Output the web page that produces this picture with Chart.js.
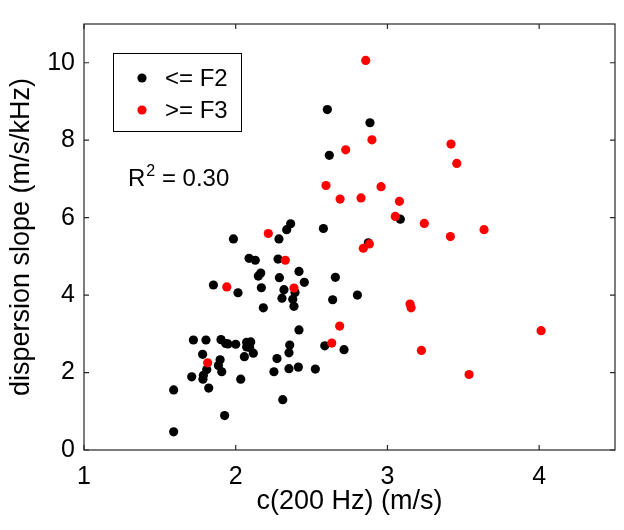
<!DOCTYPE html>
<html>
<head>
<meta charset="utf-8">
<script src="https://cdn.jsdelivr.net/npm/chart.js@4/dist/chart.umd.min.js"></script>
<style>
html,body{margin:0;padding:0;background:#fff;}
#wrap{width:624px;height:530px;}
</style>
</head>
<body>
<div id="wrap"><canvas id="c" width="624" height="530"></canvas></div>
<script>
// ---- data ----
const seriesLabels = ['<= F2', '>= F3'];
const f2Points = [
  [2.604,8.79],[2.617,7.61],[2.362,5.84],[2.336,5.69],[2.578,5.72],[1.985,5.45],[2.285,5.45],[2.885,8.45],[3.085,5.96],
  [2.088,4.95],[2.129,4.90],[2.279,4.93],[2.165,4.57],[2.149,4.49],[2.417,4.61],[2.288,4.45],[2.452,4.33],[2.657,4.46],
  [1.853,4.26],[2.015,4.06],[2.169,4.19],[2.318,4.14],[2.391,4.07],[2.376,3.89],[2.305,3.92],[2.384,3.71],[2.182,3.67],
  [2.639,3.88],[2.417,3.10],[2.587,2.69],[2.714,2.59],
  [1.721,2.84],[1.804,2.84],[1.903,2.85],[1.934,2.75],[1.949,2.74],[2.000,2.73],[2.072,2.78],[2.099,2.79],[2.072,2.66],
  [2.092,2.65],[2.116,2.50],[2.057,2.41],[2.356,2.71],[2.351,2.51],[2.272,2.36],[2.351,2.10],[2.413,2.14],[2.525,2.09],
  [2.252,2.02],[1.782,2.47],[1.897,2.33],[1.886,2.18],[1.908,2.02],[1.809,2.08],[1.787,1.93],[1.784,1.83],[1.710,1.89],
  [2.033,1.83],[1.822,1.60],[1.591,1.55],[2.310,1.30],[1.927,0.89],[1.591,0.47],[2.874,5.35],[2.802,4.00]
];
const f3Points = [
  [2.725,7.75],[2.595,6.83],[2.688,6.48],[2.215,5.59],[2.857,10.06],[2.898,8.01],[3.419,7.90],[3.457,7.40],[2.958,6.80],
  [2.826,6.51],[3.079,6.42],[3.052,6.03],[3.243,5.85],[3.637,5.69],[3.415,5.51],[2.327,4.90],[1.941,4.21],[2.384,4.18],
  [2.685,3.20],[2.633,2.76],[1.815,2.25],[2.841,5.21],[2.881,5.32],[3.149,3.77],[3.156,3.67],[4.013,3.08],[3.224,2.57],
  [3.538,1.95]
];
const xTicks = [1, 2, 3, 4];
const yTicks = [0, 2, 4, 6, 8, 10];
const xTitle = 'c(200 Hz) (m/s)';
const yTitle = 'dispersion slope (m/s/kHz)';
const r2Text = { base: 'R', sup: '2', rest: ' = 0.30' };

const FONT = '"Liberation Sans", Arial, Helvetica, sans-serif';
const toXY = a => a.map(p => ({x: p[0], y: p[1]}));

const framePlugin = {
  id: 'frame',
  beforeDraw(chart) {
    const ctx = chart.ctx;
    ctx.save();
    ctx.fillStyle = '#fff';
    ctx.fillRect(0, 0, chart.width, chart.height);
    ctx.restore();
  },
  afterDraw(chart) {
    const ctx = chart.ctx;
    const {left, right, top, bottom} = chart.chartArea;
    const xs = chart.scales.x, ys = chart.scales.y;
    ctx.save();
    ctx.strokeStyle = '#262626';
    ctx.lineWidth = 1.2;
    ctx.strokeRect(left, top, right - left, bottom - top);
    const tl = 5;
    ctx.beginPath();
    xTicks.forEach(v => {
      const px = xs.getPixelForValue(v);
      ctx.moveTo(px, bottom); ctx.lineTo(px, bottom - tl);
      ctx.moveTo(px, top); ctx.lineTo(px, top + tl);
    });
    yTicks.forEach(v => {
      const py = ys.getPixelForValue(v);
      ctx.moveTo(left, py); ctx.lineTo(left + tl, py);
      ctx.moveTo(right, py); ctx.lineTo(right - tl, py);
    });
    ctx.stroke();

    // legend box
    const lx = left + 29, ly = top + 29, lw = 128, lh = 78;
    ctx.fillStyle = '#fff';
    ctx.fillRect(lx, ly, lw, lh);
    ctx.strokeStyle = '#000';
    ctx.lineWidth = 1;
    ctx.strokeRect(lx + 0.5, ly + 0.5, lw, lh);
    const ds = chart.data.datasets;
    const rows = [ds[0], ds[1]];
    ctx.font = '24px ' + FONT;
    ctx.textBaseline = 'middle';
    ctx.textAlign = 'left';
    rows.forEach((d, i) => {
      const cy = ly + 25 + i * 32;
      ctx.beginPath();
      ctx.fillStyle = d.backgroundColor;
      ctx.arc(lx + 29, cy, 4.6, 0, Math.PI * 2);
      ctx.fill();
      ctx.fillStyle = '#000';
      ctx.fillText(d.label, lx + 52, cy + 1);
    });

    // R^2 annotation
    ctx.fillStyle = '#000';
    ctx.textBaseline = 'alphabetic';
    ctx.font = '24px ' + FONT;
    const rx = left + 44, ry = top + 162;
    ctx.fillText(r2Text.base, rx, ry);
    const w1 = ctx.measureText(r2Text.base).width;
    ctx.font = '16px ' + FONT;
    ctx.fillText(r2Text.sup, rx + w1 + 1, ry - 10);
    const w2 = ctx.measureText(r2Text.sup).width;
    ctx.font = '24px ' + FONT;
    ctx.fillText(r2Text.rest, rx + w1 + w2 + 1, ry);
    ctx.restore();
  }
};

new Chart(document.getElementById('c'), {
  type: 'scatter',
  data: {
    datasets: [
      { label: seriesLabels[0], data: toXY(f2Points), backgroundColor: '#000000', borderWidth: 0, pointRadius: 4.6, order: 1 },
      { label: seriesLabels[1], data: toXY(f3Points), backgroundColor: '#ff0000', borderWidth: 0, pointRadius: 4.6, order: 0 }
    ]
  },
  options: {
    responsive: false,
    animation: false,
    devicePixelRatio: 1,
    layout: { padding: { top: 9, right: 9, left: 0, bottom: 0 } },
    plugins: { legend: { display: false }, tooltip: { enabled: false } },
    scales: {
      x: {
        type: 'linear', min: 1, max: 4.5,
        afterBuildTicks: s => { s.ticks = xTicks.map(v => ({value: v})); },
        afterFit: s => { s.height = 80; },
        grid: { display: false, drawTicks: false },
        border: { display: false },
        ticks: { padding: 12, color: '#000', font: { family: FONT, size: 25 }, maxRotation: 0 },
        title: { display: true, text: xTitle, color: '#000', font: { family: FONT, size: 27 }, padding: { top: 0, bottom: 12 } }
      },
      y: {
        type: 'linear', min: 0, max: 11,
        afterBuildTicks: s => { s.ticks = yTicks.map(v => ({value: v})); },
        afterFit: s => { s.width = 84; },
        grid: { display: false, drawTicks: false },
        border: { display: false },
        ticks: { padding: 9, color: '#000', font: { family: FONT, size: 25 } },
        title: { display: true, text: yTitle, color: '#000', font: { family: FONT, size: 27 }, padding: { top: 5, bottom: 0 } }
      }
    }
  },
  plugins: [framePlugin]
});
</script>
</body>
</html>
